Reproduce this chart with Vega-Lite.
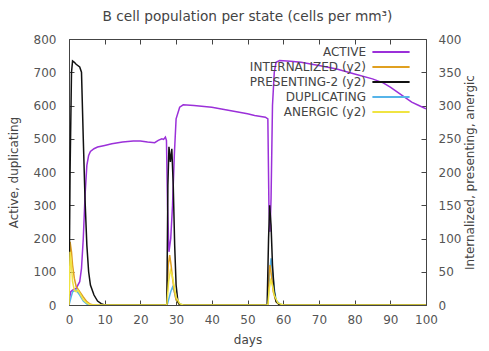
{
"$schema":"https://vega.github.io/schema/vega-lite/v6.json",
"autosize":{"type":"fit","contains":"padding"},
"width":489,"height":351,
"padding":{"left":7,"top":10,"right":13,"bottom":6},
"title":{"text":"B cell population  per state (cells per mm³)","fontSize":13.7,"fontWeight":"normal","color":"#444","font":"DejaVu Sans","offset":9},
"config":{"view":{"stroke":"#444","strokeWidth":1},
"axis":{"grid":false,"domain":false,"tickColor":"#444","tickSize":-5,"labelFont":"DejaVu Sans","labelFontSize":12,"labelColor":"#555","titleFont":"DejaVu Sans","titleFontSize":12,"titleFontWeight":"normal","titleColor":"#444","labelPadding":14,"labelFlush":false},
"legend":{"labelFont":"DejaVu Sans","labelFontSize":12,"labelColor":"#444"}},
"data":{"values":[
{"d":0,"v":10,"s":"ACTIVE"},{"d":0.5,"v":40,"s":"ACTIVE"},{"d":1,"v":45,"s":"ACTIVE"},{"d":2,"v":50,"s":"ACTIVE"},{"d":3,"v":70,"s":"ACTIVE"},{"d":3.5,"v":110,"s":"ACTIVE"},{"d":4,"v":200,"s":"ACTIVE"},{"d":4.5,"v":330,"s":"ACTIVE"},{"d":5,"v":420,"s":"ACTIVE"},{"d":5.5,"v":450,"s":"ACTIVE"},{"d":6,"v":462,"s":"ACTIVE"},{"d":7,"v":470,"s":"ACTIVE"},{"d":8,"v":475,"s":"ACTIVE"},{"d":10,"v":480,"s":"ACTIVE"},{"d":12,"v":485,"s":"ACTIVE"},{"d":15,"v":490,"s":"ACTIVE"},{"d":18,"v":493,"s":"ACTIVE"},{"d":20,"v":493,"s":"ACTIVE"},{"d":22,"v":490,"s":"ACTIVE"},{"d":24,"v":488,"s":"ACTIVE"},{"d":25,"v":495,"s":"ACTIVE"},{"d":26,"v":500,"s":"ACTIVE"},{"d":26.5,"v":498,"s":"ACTIVE"},{"d":27,"v":505,"s":"ACTIVE"},{"d":27.3,"v":495,"s":"ACTIVE"},{"d":27.6,"v":300,"s":"ACTIVE"},{"d":28,"v":160,"s":"ACTIVE"},{"d":28.5,"v":200,"s":"ACTIVE"},{"d":29,"v":300,"s":"ACTIVE"},{"d":29.5,"v":450,"s":"ACTIVE"},{"d":30,"v":560,"s":"ACTIVE"},{"d":31,"v":595,"s":"ACTIVE"},{"d":32,"v":602,"s":"ACTIVE"},{"d":35,"v":600,"s":"ACTIVE"},{"d":40,"v":595,"s":"ACTIVE"},{"d":45,"v":585,"s":"ACTIVE"},{"d":50,"v":575,"s":"ACTIVE"},{"d":52,"v":570,"s":"ACTIVE"},{"d":55,"v":565,"s":"ACTIVE"},{"d":55.7,"v":560,"s":"ACTIVE"},{"d":56,"v":300,"s":"ACTIVE"},{"d":56.3,"v":220,"s":"ACTIVE"},{"d":56.6,"v":320,"s":"ACTIVE"},{"d":57,"v":600,"s":"ACTIVE"},{"d":57.5,"v":700,"s":"ACTIVE"},{"d":58,"v":730,"s":"ACTIVE"},{"d":59,"v":735,"s":"ACTIVE"},{"d":62,"v":733,"s":"ACTIVE"},{"d":65,"v":730,"s":"ACTIVE"},{"d":70,"v":720,"s":"ACTIVE"},{"d":75,"v":710,"s":"ACTIVE"},{"d":80,"v":695,"s":"ACTIVE"},{"d":85,"v":680,"s":"ACTIVE"},{"d":88,"v":668,"s":"ACTIVE"},{"d":90,"v":655,"s":"ACTIVE"},{"d":92,"v":640,"s":"ACTIVE"},{"d":94,"v":625,"s":"ACTIVE"},{"d":96,"v":610,"s":"ACTIVE"},{"d":98,"v":600,"s":"ACTIVE"},{"d":100,"v":590,"s":"ACTIVE"},
{"d":0,"v":0,"s":"INTERNALIZED (y2)"},{"d":0.3,"v":95,"s":"INTERNALIZED (y2)"},{"d":0.7,"v":80,"s":"INTERNALIZED (y2)"},{"d":1,"v":60,"s":"INTERNALIZED (y2)"},{"d":1.5,"v":40,"s":"INTERNALIZED (y2)"},{"d":2,"v":28,"s":"INTERNALIZED (y2)"},{"d":3,"v":20,"s":"INTERNALIZED (y2)"},{"d":4,"v":12,"s":"INTERNALIZED (y2)"},{"d":5,"v":5,"s":"INTERNALIZED (y2)"},{"d":6,"v":1,"s":"INTERNALIZED (y2)"},{"d":7,"v":0,"s":"INTERNALIZED (y2)"},{"d":27.4,"v":0,"s":"INTERNALIZED (y2)"},{"d":27.8,"v":60,"s":"INTERNALIZED (y2)"},{"d":28.2,"v":75,"s":"INTERNALIZED (y2)"},{"d":28.6,"v":60,"s":"INTERNALIZED (y2)"},{"d":29,"v":40,"s":"INTERNALIZED (y2)"},{"d":29.5,"v":20,"s":"INTERNALIZED (y2)"},{"d":30,"v":8,"s":"INTERNALIZED (y2)"},{"d":31,"v":0,"s":"INTERNALIZED (y2)"},{"d":55.7,"v":0,"s":"INTERNALIZED (y2)"},{"d":56,"v":45,"s":"INTERNALIZED (y2)"},{"d":56.3,"v":60,"s":"INTERNALIZED (y2)"},{"d":56.7,"v":45,"s":"INTERNALIZED (y2)"},{"d":57.2,"v":20,"s":"INTERNALIZED (y2)"},{"d":58,"v":5,"s":"INTERNALIZED (y2)"},{"d":59,"v":0,"s":"INTERNALIZED (y2)"},{"d":100,"v":0,"s":"INTERNALIZED (y2)"},
{"d":0,"v":0,"s":"PRESENTING-2 (y2)"},{"d":0.3,"v":200,"s":"PRESENTING-2 (y2)"},{"d":0.7,"v":350,"s":"PRESENTING-2 (y2)"},{"d":1,"v":367,"s":"PRESENTING-2 (y2)"},{"d":1.5,"v":365,"s":"PRESENTING-2 (y2)"},{"d":2,"v":362,"s":"PRESENTING-2 (y2)"},{"d":3,"v":358,"s":"PRESENTING-2 (y2)"},{"d":3.5,"v":350,"s":"PRESENTING-2 (y2)"},{"d":4,"v":250,"s":"PRESENTING-2 (y2)"},{"d":4.5,"v":157,"s":"PRESENTING-2 (y2)"},{"d":5,"v":90,"s":"PRESENTING-2 (y2)"},{"d":5.5,"v":50,"s":"PRESENTING-2 (y2)"},{"d":6,"v":30,"s":"PRESENTING-2 (y2)"},{"d":7,"v":15,"s":"PRESENTING-2 (y2)"},{"d":8,"v":6,"s":"PRESENTING-2 (y2)"},{"d":9,"v":2,"s":"PRESENTING-2 (y2)"},{"d":10,"v":0,"s":"PRESENTING-2 (y2)"},{"d":27.4,"v":0,"s":"PRESENTING-2 (y2)"},{"d":27.7,"v":180,"s":"PRESENTING-2 (y2)"},{"d":28,"v":238,"s":"PRESENTING-2 (y2)"},{"d":28.4,"v":215,"s":"PRESENTING-2 (y2)"},{"d":28.8,"v":235,"s":"PRESENTING-2 (y2)"},{"d":29.2,"v":180,"s":"PRESENTING-2 (y2)"},{"d":29.6,"v":90,"s":"PRESENTING-2 (y2)"},{"d":30,"v":30,"s":"PRESENTING-2 (y2)"},{"d":30.5,"v":5,"s":"PRESENTING-2 (y2)"},{"d":31,"v":0,"s":"PRESENTING-2 (y2)"},{"d":55.5,"v":0,"s":"PRESENTING-2 (y2)"},{"d":55.9,"v":100,"s":"PRESENTING-2 (y2)"},{"d":56.2,"v":150,"s":"PRESENTING-2 (y2)"},{"d":56.6,"v":120,"s":"PRESENTING-2 (y2)"},{"d":57,"v":60,"s":"PRESENTING-2 (y2)"},{"d":57.5,"v":20,"s":"PRESENTING-2 (y2)"},{"d":58,"v":5,"s":"PRESENTING-2 (y2)"},{"d":59,"v":0,"s":"PRESENTING-2 (y2)"},{"d":100,"v":0,"s":"PRESENTING-2 (y2)"},
{"d":0,"v":0,"s":"DUPLICATING"},{"d":0.5,"v":20,"s":"DUPLICATING"},{"d":1,"v":40,"s":"DUPLICATING"},{"d":2,"v":45,"s":"DUPLICATING"},{"d":3,"v":30,"s":"DUPLICATING"},{"d":4,"v":12,"s":"DUPLICATING"},{"d":5,"v":3,"s":"DUPLICATING"},{"d":6,"v":0,"s":"DUPLICATING"},{"d":27.5,"v":0,"s":"DUPLICATING"},{"d":28,"v":20,"s":"DUPLICATING"},{"d":28.5,"v":40,"s":"DUPLICATING"},{"d":29,"v":54,"s":"DUPLICATING"},{"d":29.5,"v":40,"s":"DUPLICATING"},{"d":30,"v":15,"s":"DUPLICATING"},{"d":31,"v":3,"s":"DUPLICATING"},{"d":32,"v":0,"s":"DUPLICATING"},{"d":55.7,"v":0,"s":"DUPLICATING"},{"d":56.2,"v":100,"s":"DUPLICATING"},{"d":56.6,"v":140,"s":"DUPLICATING"},{"d":57,"v":100,"s":"DUPLICATING"},{"d":57.5,"v":50,"s":"DUPLICATING"},{"d":58,"v":15,"s":"DUPLICATING"},{"d":59,"v":3,"s":"DUPLICATING"},{"d":60,"v":0,"s":"DUPLICATING"},{"d":100,"v":0,"s":"DUPLICATING"},
{"d":0,"v":0,"s":"ANERGIC (y2)"},{"d":0.3,"v":80,"s":"ANERGIC (y2)"},{"d":0.7,"v":60,"s":"ANERGIC (y2)"},{"d":1,"v":35,"s":"ANERGIC (y2)"},{"d":1.5,"v":22,"s":"ANERGIC (y2)"},{"d":2,"v":20,"s":"ANERGIC (y2)"},{"d":2.5,"v":22,"s":"ANERGIC (y2)"},{"d":3,"v":18,"s":"ANERGIC (y2)"},{"d":4,"v":8,"s":"ANERGIC (y2)"},{"d":5,"v":3,"s":"ANERGIC (y2)"},{"d":6,"v":0,"s":"ANERGIC (y2)"},{"d":27.4,"v":0,"s":"ANERGIC (y2)"},{"d":27.9,"v":35,"s":"ANERGIC (y2)"},{"d":28.4,"v":52,"s":"ANERGIC (y2)"},{"d":28.9,"v":45,"s":"ANERGIC (y2)"},{"d":29.4,"v":30,"s":"ANERGIC (y2)"},{"d":30,"v":12,"s":"ANERGIC (y2)"},{"d":31,"v":2,"s":"ANERGIC (y2)"},{"d":32,"v":0,"s":"ANERGIC (y2)"},{"d":55.7,"v":0,"s":"ANERGIC (y2)"},{"d":56.1,"v":25,"s":"ANERGIC (y2)"},{"d":56.5,"v":37,"s":"ANERGIC (y2)"},{"d":57,"v":30,"s":"ANERGIC (y2)"},{"d":57.5,"v":15,"s":"ANERGIC (y2)"},{"d":58.5,"v":3,"s":"ANERGIC (y2)"},{"d":60,"v":0,"s":"ANERGIC (y2)"},{"d":100,"v":0,"s":"ANERGIC (y2)"}
]},
"layer":[
{"transform":[{"filter":"datum.s=='ACTIVE'||datum.s=='DUPLICATING'"}],
"mark":{"type":"line","strokeWidth":1.5,"clip":true},
"encoding":{
"x":{"field":"d","type":"quantitative","scale":{"domain":[0,100],"nice":false},"axis":{"title":"days","values":[0,10,20,30,40,50,60,70,80,90,100],"titlePadding":9}},
"y":{"field":"v","type":"quantitative","scale":{"domain":[0,800],"nice":false},"axis":{"title":"Active, duplicating","values":[0,100,200,300,400,500,600,700,800],"labelPadding":18,"titlePadding":13}},
"color":{"field":"s","type":"nominal","scale":{"domain":["ACTIVE","INTERNALIZED (y2)","PRESENTING-2 (y2)","DUPLICATING","ANERGIC (y2)"],"range":["#9b30d9","#e0a020","#111111","#56b4e9","#f0e442"]},
"legend":{"title":null,"orient":"none","legendX":315,"legendY":6,"symbolType":"M-3.1,0H3.1","symbolSize":144,"symbolStrokeWidth":2,"labelAlign":"right","labelOffset":-32,"rowPadding":2,"labelLimit":300}}}},
{"transform":[{"filter":"datum.s!='ACTIVE'&&datum.s!='DUPLICATING'"}],
"mark":{"type":"line","strokeWidth":1.5,"clip":true},
"encoding":{
"x":{"field":"d","type":"quantitative","axis":{"orient":"top","labels":false,"title":null,"values":[0,10,20,30,40,50,60,70,80,90,100]}},
"y":{"field":"v","type":"quantitative","scale":{"domain":[0,400],"nice":false},"axis":{"orient":"right","title":"Internalized, presenting, anergic","titleAngle":270,"values":[0,50,100,150,200,250,300,350,400],"labelPadding":17,"titlePadding":16}},
"color":{"field":"s","type":"nominal"}}}
],
"resolve":{"scale":{"y":"independent"},"axis":{"x":"independent"}}
}
